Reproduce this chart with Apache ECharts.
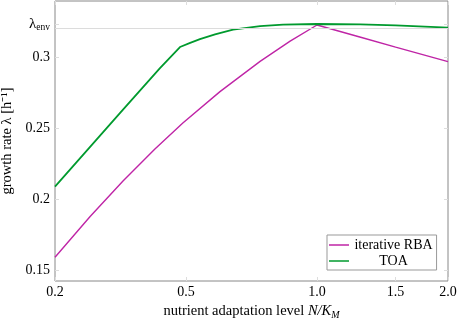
<!DOCTYPE html>
<html>
<head>
<meta charset="utf-8">
<script src="https://cdn.jsdelivr.net/npm/echarts@6/dist/echarts.min.js"></script>
<style>
  html, body { margin: 0; padding: 0; background: #fff; }
  #chart { width: 457px; height: 320px; }
</style>
</head>
<body>
<div id="chart"></div>
<script>
// x axis is linear in N/(K+N), ticks given in N/K_M
var xTicks = [0.2, 0.5, 1.0, 1.5, 2.0];
var xTickLabels = ['0.2', '0.5', '1.0', '1.5', '2.0'];
var lambdaEnv = 0.3232;
var yTicks = [0.15, 0.2, 0.25, 0.3, lambdaEnv];
var yTickLabels = ['0.15', '0.2', '0.25', '0.3', '{l|λ}{s|env}'];

var rbaX = [0.2, 0.268, 0.339, 0.416, 0.491, 0.604, 0.747, 0.872, 1.0, 1.25, 1.5, 2.0];
var rbaY = [0.159, 0.1877, 0.2127, 0.2352, 0.2535, 0.2756, 0.2969, 0.3111, 0.3225, 0.3139, 0.3069, 0.2967];

var toaX = [0.2, 0.332, 0.429, 0.483, 0.512, 0.541, 0.588, 0.648, 0.747, 0.841, 1.0, 1.246, 1.5, 2.0];
var toaY = [0.2087, 0.2605, 0.2922, 0.3070, 0.3099, 0.3125, 0.3159, 0.3192, 0.3217, 0.3228, 0.3232, 0.3230, 0.3223, 0.3206];

function toU(x) { return x / (1 + x); }
function pairs(xs, ys) { return xs.map(function (x, i) { return [toU(x), ys[i]]; }); }
function labelFor(vals, labels, v) {
    for (var i = 0; i < vals.length; i++) {
        if (Math.abs(vals[i] - v) < 1e-6) return labels[i];
    }
    return '';
}

var xTickU = xTicks.map(toU);
var serif = 'Liberation Serif';

var chartDom = document.getElementById('chart');
var myChart = echarts.init(chartDom);
var option = {
    animation: false,
    grid: {
        left: 55, right: 9, top: 1, bottom: 39,
        outerBoundsMode: 'none',
        containLabel: false,
        show: true, borderColor: '#888', borderWidth: 1
    },
    legend: {
        orient: 'vertical',
        left: 327, top: 235,
        backgroundColor: '#fff',
        borderColor: '#999', borderWidth: 1,
        padding: [3, 4, 2, 2],
        itemGap: 2,
        itemWidth: 20, itemHeight: 1.5,
        icon: 'rect',
        formatter: function (name) { return '{c|' + name + '}'; },
        textStyle: {
            fontFamily: serif, fontSize: 14, color: '#000',
            rich: { c: { width: 79, align: 'center', fontFamily: serif, fontSize: 14 } }
        },
        data: ['iterative RBA', 'TOA']
    },
    xAxis: [{
        type: 'value',
        min: toU(0.2), max: toU(2.0),
        axisLine: { show: false },
        splitLine: { show: false },
        axisTick: { inside: true, length: 4, lineStyle: { color: '#ddd' }, customValues: xTickU },
        axisLabel: {
            customValues: xTickU,
            fontFamily: serif, fontSize: 14, color: '#000', margin: 4,
            formatter: function (v) { return labelFor(xTickU, xTickLabels, v); }
        },
        name: '{t|nutrient adaptation level }{i|N/K}{s|M}',
        nameLocation: 'middle',
        nameGap: 16,
        nameTextStyle: {
            rich: {
                t: { fontFamily: serif, fontSize: 14.5, color: '#000', lineHeight: 17 },
                i: { fontFamily: serif, fontSize: 14.5, fontStyle: 'italic', color: '#000', lineHeight: 17 },
                s: { fontFamily: serif, fontSize: 10, fontStyle: 'italic', color: '#000', verticalAlign: 'bottom', lineHeight: 8 }
            }
        }
    }, {
        type: 'value', position: 'top',
        min: toU(0.2), max: toU(2.0),
        axisLine: { show: false }, splitLine: { show: false },
        axisTick: { inside: true, length: 4, lineStyle: { color: '#ddd' }, customValues: xTickU },
        axisLabel: { show: false }
    }],
    yAxis: [{
        type: 'value',
        min: 0.1423, max: 0.3394,
        axisLine: { show: false },
        splitLine: { show: false },
        axisTick: { inside: true, length: 4, lineStyle: { color: '#ddd' }, customValues: yTicks },
        axisLabel: {
            customValues: yTicks,
            fontFamily: serif, fontSize: 14, color: '#000', margin: 5,
            formatter: function (v) { return labelFor(yTicks, yTickLabels, v); },
            rich: {
                l: { fontFamily: serif, fontSize: 15, color: '#000', lineHeight: 17 },
                s: { fontFamily: serif, fontSize: 9.5, color: '#000', verticalAlign: 'bottom', lineHeight: 7 }
            }
        },
        name: 'growth rate λ [h⁻¹]',
        nameLocation: 'middle',
        nameGap: 29,
        nameTextStyle: { fontFamily: serif, fontSize: 14.5, color: '#000' }
    }, {
        type: 'value', position: 'right',
        min: 0.1423, max: 0.3394,
        axisLine: { show: false }, splitLine: { show: false },
        axisTick: { inside: true, length: 4, lineStyle: { color: '#ddd' }, customValues: yTicks },
        axisLabel: { show: false }
    }],
    series: [
        {
            name: 'iterative RBA',
            type: 'line',
            data: pairs(rbaX, rbaY),
            showSymbol: false,
            itemStyle: { color: '#bf25a6' },
            lineStyle: { color: '#bf25a6', width: 1.4 },
            markLine: {
                silent: true, symbol: 'none',
                label: { show: false },
                lineStyle: { color: '#dcdcdc', type: 'solid', width: 1 },
                data: [{ yAxis: lambdaEnv }]
            },
            z: 3
        },
        {
            name: 'TOA',
            type: 'line',
            data: pairs(toaX, toaY),
            showSymbol: false,
            itemStyle: { color: '#009a2e' },
            lineStyle: { color: '#009a2e', width: 1.8 },
            z: 4
        }
    ]
};
option && myChart.setOption(option);
</script>
</body>
</html>
